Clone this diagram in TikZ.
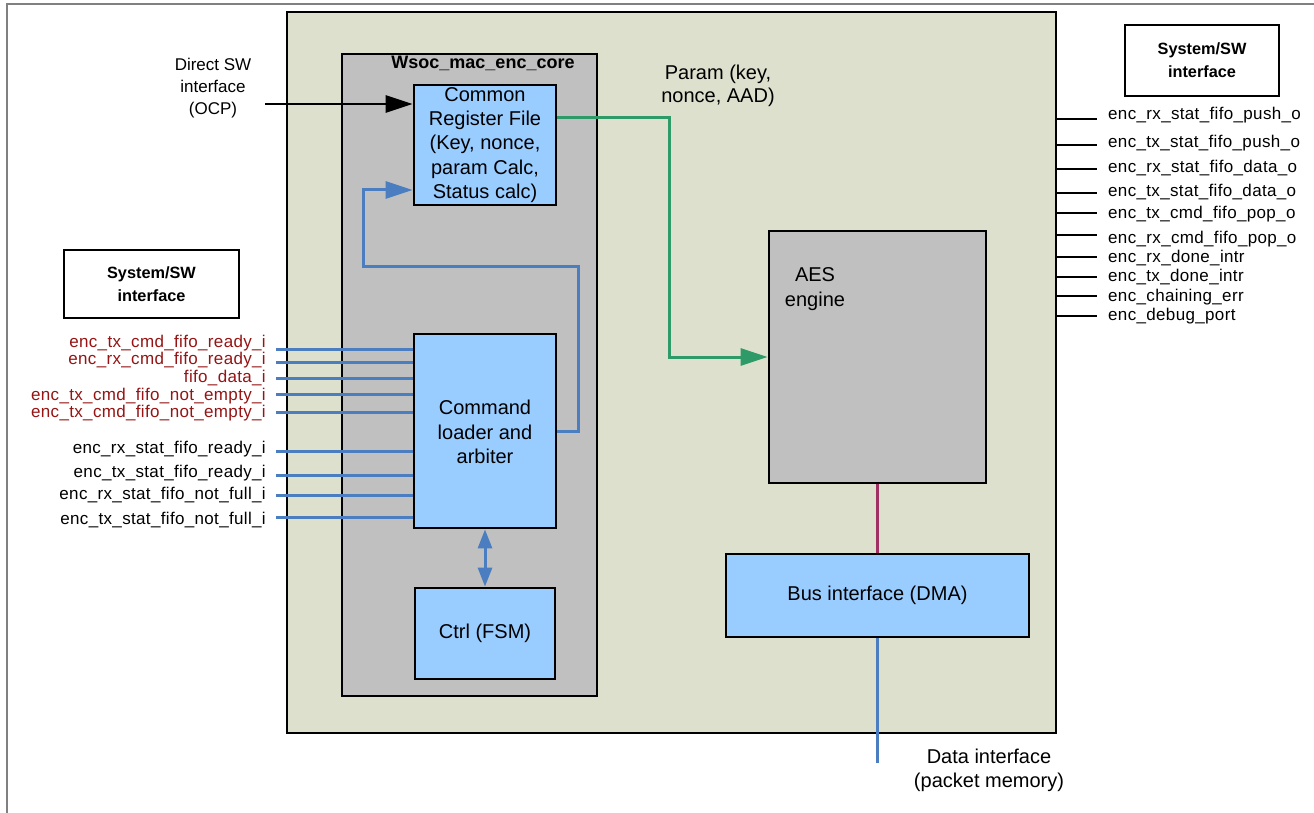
\documentclass[tikz,border=0pt]{standalone}
\usepackage{fontspec}
\setmainfont{Liberation Sans}
\newfontfamily\sigfont[LetterSpace=2]{Liberation Sans}
\usetikzlibrary{arrows.meta}
\definecolor{framebg}{RGB}{221,224,204}
\definecolor{coregray}{RGB}{192,192,192}
\definecolor{boxblue}{RGB}{153,204,255}
\definecolor{lineblue}{RGB}{74,126,193}
\definecolor{linegreen}{RGB}{46,154,104}
\definecolor{linemag}{RGB}{160,48,100}
\definecolor{sigred}{RGB}{150,20,20}
\definecolor{edgegray}{RGB}{128,128,128}
\tikzset{
  blk/.style={draw=black, line width=2.8pt, inner sep=0pt},
  bigtxt/.style={font=\fontsize{20}{24.4}\selectfont, align=center, inner sep=0pt},
  smalltxt/.style={font=\fontsize{17}{22}\selectfont, align=center, inner sep=0pt},
  sigl/.style={font=\sigfont\fontsize{17}{19}\selectfont, inner sep=0pt, anchor=east},
  sigr/.style={font=\sigfont\fontsize{17}{19}\selectfont, inner sep=0pt, anchor=west},
  swtxt/.style={font=\fontsize{16.3}{23}\selectfont\bfseries, align=center, inner sep=0pt},
  bl/.style={draw=lineblue, line width=3pt},
  bigtip/.style={-{Triangle[length=27pt,width=17pt]}},
  outl/.style={draw=black, line width=2.6pt}
}
\begin{document}
\begin{tikzpicture}[x=1pt,y=-1pt]
\useasboundingbox (0,0) rectangle (1314,813);
\fill[white] (0,0) rectangle (1314,813);
% outer page frame
\draw[edgegray, line width=2pt] (1314,4.5) -- (7,4.5) -- (7,813);
% main block
\node[blk, fill=framebg, minimum width=769pt, minimum height=721pt] (main) at (671.5,372.5) {};
% core block
\node[blk, fill=coregray, minimum width=255pt, minimum height=642pt] (core) at (469.5,375) {};
\node[font=\fontsize{18}{20}\selectfont\bfseries, inner sep=0pt] (corelbl) at (483,63) {Wsoc\_mac\_enc\_core};
% inner boxes
\node[blk, fill=boxblue, minimum width=142pt, minimum height=120pt, bigtxt] (crf) at (485,145)
  {Common\\Register File\\(Key, nonce,\\param Calc,\\Status calc)};
\node[blk, fill=boxblue, minimum width=142pt, minimum height=194pt] (cmd) at (485,431) {};
\node[bigtxt] (cmdtxt) at (485,432) {Command\\loader and\\arbiter};
\node[blk, fill=boxblue, minimum width=140pt, minimum height=91pt, bigtxt] (ctrl) at (485,633.5) {Ctrl (FSM)};
\node[blk, fill=coregray, minimum width=217pt, minimum height=252pt] (aes) at (877.5,357) {};
\node[bigtxt] (aestxt) at (815,289) {AES\\engine};
\node[blk, fill=boxblue, minimum width=303pt, minimum height=83pt, bigtxt] (bus) at (877.5,595.5) {Bus interface (DMA)};
% System/SW boxes
\node[draw=black, line width=2.2pt, fill=white, minimum width=175pt, minimum height=68pt, swtxt] (swl) at (151.5,284) {System/SW\\interface};
\node[draw=black, line width=2.2pt, fill=white, minimum width=154pt, minimum height=71pt, swtxt] (swr) at (1202,60.5) {System/SW\\interface};
% texts
\node[smalltxt] (dswtxt) at (213,88) {Direct SW\\interface\\(OCP)};
\node[bigtxt, font=\fontsize{20}{23.5}\selectfont] (paramtxt) at (718,86) {Param (key,\\nonce, AAD)};
\node[bigtxt, font=\fontsize{20}{24}\selectfont] (datatxt) at (989,770) {Data interface\\(packet memory)};
% direct SW arrow
\coordinate (dsw) at (265,104);
\draw[draw=black, line width=2.8pt, bigtip] (dsw) -- (dsw -| crf.west);
% feedback arrow
\coordinate (fb1) at (578,431);
\coordinate (fb2) at (578,266);
\coordinate (fb3) at (363,266);
\coordinate (fb4) at (363,190);
\draw[bl, bigtip] (cmd.east |- fb1) -- (fb1) -- (fb2) -- (fb3) -- (fb4) -- (fb4 -| crf.west);
% green param arrow
\coordinate (g0) at (669,118);
\draw[draw=linegreen, line width=3pt, bigtip] (crf.east |- g0) -- (g0) -- (g0 |- aes.west) -- (aes.west);
% aes to bus
\draw[draw=linemag, line width=2.6pt] (aes.south) -- (bus.north);
% data interface line
\coordinate (dat) at (877.5,763);
\draw[bl] (bus.south) -- (dat);
% cmd <-> ctrl
\draw[bl, {Triangle[length=19pt,width=14pt]}-{Triangle[length=19pt,width=14pt]}] (cmd.south) -- (ctrl.north);
% left input signals
\foreach \n/\ly/\ty/\txt/\c in {
  1/349/343/enc\_tx\_cmd\_fifo\_ready\_i/sigred,
  2/362/360/enc\_rx\_cmd\_fifo\_ready\_i/sigred,
  3/378/378/fifo\_data\_i/sigred,
  4/394/396/enc\_tx\_cmd\_fifo\_not\_empty\_i/sigred,
  5/412/413/enc\_tx\_cmd\_fifo\_not\_empty\_i/sigred,
  6/451/449/enc\_rx\_stat\_fifo\_ready\_i/black,
  7/475/473/enc\_tx\_stat\_fifo\_ready\_i/black,
  8/495/495/enc\_rx\_stat\_fifo\_not\_full\_i/black,
  9/517/520/enc\_tx\_stat\_fifo\_not\_full\_i/black}{
  \node[sigl, text=\c] (inl\n) at (266,\ty) {\txt};
  \coordinate (in\n) at (276,\ly);
  \draw[bl] (in\n) -- (in\n -| cmd.west);
}
% right output signals
\foreach \n/\ly/\ty/\txt in {
  1/119/115/enc\_rx\_stat\_fifo\_push\_o,
  2/145/143/enc\_tx\_stat\_fifo\_push\_o,
  3/169/168/enc\_rx\_stat\_fifo\_data\_o,
  4/193/192/enc\_tx\_stat\_fifo\_data\_o,
  5/213/214/enc\_tx\_cmd\_fifo\_pop\_o,
  6/235/239/enc\_rx\_cmd\_fifo\_pop\_o,
  7/257/258/enc\_rx\_done\_intr,
  8/277/277/enc\_tx\_done\_intr,
  9/296/297/enc\_chaining\_err,
  10/316/316/enc\_debug\_port}{
  \coordinate (out\n) at (1057,\ly);
  \draw[outl] (out\n) -- ++(40,0);
  \node[sigr] (outl\n) at (1108,\ty) {\txt};
}
\end{tikzpicture}
\end{document}
